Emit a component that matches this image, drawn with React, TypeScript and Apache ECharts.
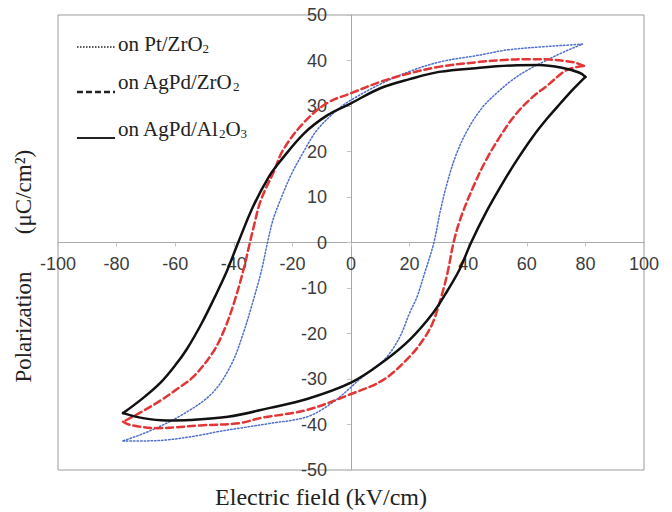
import React, { useEffect, useRef } from "react";
import * as echarts from "echarts";

// Axis ranges / ticks
const X_MIN = -100;
const X_MAX = 100;
const X_STEP = 20;
const Y_MIN = -50;
const Y_MAX = 50;
const Y_STEP = 10;

const xAxisName = "Electric field (kV/cm)";
const yAxisNameA = "Polarization";
const yAxisNameB = "(μC/cm²)";

const legendNames = ["on Pt/ZrO", "on AgPd/ZrO", "on AgPd/Al"];

// Pt/ZrO2 (blue dotted): upper (descending field) and lower (ascending field) branches
const ptUpper = [
  [79, 43.6], [72, 43.3], [65, 43.0], [53, 42.3], [44, 41.2], [30.4, 39.7], [20, 37.6], [10, 34.8],
  [0, 31.3], [-4.8, 29.1], [-11.6, 24.7], [-16.3, 19.8], [-20.5, 14.8], [-24, 9.5], [-26.6, 5],
  [-28.5, 0], [-30.5, -6], [-33.3, -12.6], [-36.8, -20], [-41, -27], [-47.5, -33.2], [-58, -38],
  [-69, -41.5], [-77.8, -43.6],
];
const ptLower = [
  [-77.8, -43.6], [-70, -43.6], [-63, -43.4], [-52, -42.4], [-45.7, -41.6], [-38, -40.8],
  [-28, -39.8], [-15, -38.3], [-7, -35.5], [0, -31.8], [3, -30], [8, -27.6], [12.3, -25.1],
  [16.7, -20.7], [20, -15.5], [22.5, -12], [25, -7], [28.3, 0], [30.5, 7], [33, 13.5], [36, 19.5],
  [40, 25], [45, 29.8], [50, 33], [55, 35.7], [60, 37.8], [66, 39.8], [72, 41.7], [76, 42.8], [79, 43.6],
];

// AgPd/ZrO2 (red dashed)
const zrUpper = [
  [79.5, 38.8], [76, 39.6], [68, 40.2], [61, 40.3], [52, 40.1], [44, 39.7], [30, 38.6], [20, 37.2],
  [10, 35.3], [0, 32.8], [-8.3, 30.6], [-16.3, 26.2], [-23.2, 20.3], [-26.6, 15.2], [-29, 12],
  [-31.2, 8.5], [-33, 4], [-34.5, 0], [-36.5, -5.5], [-39.6, -12.6], [-43, -18.8], [-47, -24],
  [-53.8, -29.5], [-60, -32.5], [-65.2, -34.8], [-72, -37.4], [-77.8, -39.4],
];
const zrLower = [
  [-77.8, -39.4], [-75.4, -40.1], [-66, -40.8], [-59.5, -40.6], [-51.5, -40.2], [-38, -39.7],
  [-31, -38.6], [-15, -36.8], [0, -33.3], [11, -30.2], [20, -25.1], [25, -21], [28, -17.5],
  [31, -11.5], [33, -6.5], [35, 0], [37.5, 5.5], [41.7, 12.2], [46, 18], [50.8, 23.2], [56, 28],
  [62, 32], [67, 34.5], [73.6, 37.9], [79.5, 38.8],
];

// AgPd/Al2O3 (black solid)
const alUpper = [
  [80, 36.4], [78, 37.3], [72, 38.4], [64, 39.0], [55, 38.9], [44, 38.4], [30, 37.5], [20, 35.9],
  [10, 33.9], [0, 30.6], [-8, 28.0], [-16, 24.0], [-24, 18.0], [-28, 14.5], [-33.5, 7.8],
  [-38.5, 0], [-42.5, -6.5], [-46.5, -12], [-51, -17.8], [-56, -23.4], [-60, -27], [-65, -30.8],
  [-71, -34.2], [-77.8, -37.5],
];
const alLower = [
  [-77.8, -37.5], [-71, -38.6], [-63, -39.1], [-55, -39.0], [-42, -38.3], [-28, -36.4],
  [-15, -34.4], [0, -30.8], [11, -26.2], [20, -21.4], [28, -15.5], [33, -10.5], [37, -6], [41, 0],
  [46, 6.5], [51, 12.2], [56, 17.5], [62, 23.2], [67, 27.3], [71.5, 30.6], [76, 33.8], [80, 36.4],
];

const SANS = '"Liberation Sans", Arial, sans-serif';
const SERIF = '"Liberation Serif", "Times New Roman", serif';

const GRID = { left: 58, right: 28, top: 15, bottom: 42 };
const W = 672;
const H = 512;

function lineSeries(data: number[][], color: string, width: number, type: any, z: number) {
  return {
    type: "line",
    data,
    showSymbol: false,
    symbol: "none",
    smooth: 0.35,
    z,
    lineStyle: { color, width, type, cap: "round" },
  };
}

function legendText(x: number, y: number, main: string, sub1: string, rest?: string, sub2?: string) {
  let text = `{a|${main}}{s|${sub1}}`;
  if (rest) text += `{a|${rest}}`;
  if (sub2) text += `{s|${sub2}}`;
  return {
    type: "text",
    x,
    y,
    style: {
      text,
      textAlign: "left",
      textVerticalAlign: "middle",
      align: "left",
      verticalAlign: "middle",
      fill: "#222",
      rich: {
        a: { fontFamily: SERIF, fontSize: 21, color: "#222", lineHeight: 22 },
        s: { fontFamily: SERIF, fontSize: 13, color: "#222", lineHeight: 8, verticalAlign: "bottom" },
      },
    },
  };
}

export default function App() {
  const ref = useRef<HTMLDivElement>(null);
  useEffect(() => {
    if (!ref.current) return;
    const chart = echarts.init(ref.current, undefined, { renderer: "svg" });
    const axisLabel = { color: "#3c3c3c", fontFamily: SANS, fontSize: 18 };
    const plotW = W - GRID.left - GRID.right;
    const plotH = H - GRID.top - GRID.bottom;
    // place each axis on the other's zero (ranges are symmetric)
    const xOffset = -plotH * (0 - Y_MIN) / (Y_MAX - Y_MIN);
    const yOffset = -plotW * (0 - X_MIN) / (X_MAX - X_MIN);
    chart.setOption({
      animation: false,
      grid: { ...GRID, show: true, borderColor: "#9c9c9c", borderWidth: 1 },
      xAxis: {
        type: "value", min: X_MIN, max: X_MAX, interval: X_STEP, position: "bottom", offset: xOffset,
        axisLine: { onZero: false, lineStyle: { color: "#a8a8a8", width: 1 } },
        axisTick: { show: true, length: 4, lineStyle: { color: "#c4c4c4" } },
        axisLabel: { ...axisLabel, margin: 12 },
        splitLine: { show: false },
      },
      yAxis: {
        type: "value", min: Y_MIN, max: Y_MAX, interval: Y_STEP, position: "left", offset: yOffset,
        axisLine: { onZero: false, lineStyle: { color: "#a8a8a8", width: 1 } },
        axisTick: { show: true, length: 4, lineStyle: { color: "#c4c4c4" } },
        axisLabel: { ...axisLabel, margin: 24 },
        splitLine: { show: false },
      },
      series: [
        lineSeries(ptUpper, "#4f6fc9", 1.5, [1.5, 2], 2),
        lineSeries(ptLower, "#4f6fc9", 1.5, [1.5, 2], 2),
        lineSeries(zrUpper, "#e23535", 2.5, [7, 4], 3),
        lineSeries(zrLower, "#e23535", 2.5, [7, 4], 3),
        lineSeries(alUpper, "#111111", 2.5, "solid", 4),
        lineSeries(alLower, "#111111", 2.5, "solid", 4),
      ],
      graphic: [
        { type: "line", shape: { x1: 77, y1: 47, x2: 115, y2: 47 }, style: { stroke: "#222", lineWidth: 1.5, lineDash: [1.5, 1.5] } },
        { type: "line", shape: { x1: 77, y1: 92, x2: 115, y2: 92 }, style: { stroke: "#222", lineWidth: 2.5, lineDash: [6, 3] } },
        { type: "line", shape: { x1: 77, y1: 138, x2: 115, y2: 138 }, style: { stroke: "#222", lineWidth: 2 } },
        legendText(118, 44, legendNames[0], "2"),
        legendText(118, 82, legendNames[1], "2"),
        legendText(118, 129, legendNames[2], "2", "O", "3"),
        {
          type: "text", x: 321, y: 497,
          style: {
            text: xAxisName, fontFamily: SERIF, fontSize: 24, fill: "#222",
            textAlign: "center", textVerticalAlign: "middle", align: "center", verticalAlign: "middle",
          },
        },
        {
          type: "text", x: 23, y: 327, rotation: Math.PI / 2,
          style: {
            text: yAxisNameA, fontFamily: SERIF, fontSize: 23, fill: "#222",
            textAlign: "center", textVerticalAlign: "middle", align: "center", verticalAlign: "middle",
          },
        },
        {
          type: "text", x: 23, y: 192, rotation: Math.PI / 2,
          style: {
            text: yAxisNameB, fontFamily: SERIF, fontSize: 23, fill: "#222",
            textAlign: "center", textVerticalAlign: "middle", align: "center", verticalAlign: "middle",
          },
        },
      ],
    });
    return () => chart.dispose();
  }, []);
  return (
    <div
      ref={ref}
      style={{ position: "fixed", left: 0, top: 0, width: W, height: H, background: "#fff" }}
    />
  );
}
